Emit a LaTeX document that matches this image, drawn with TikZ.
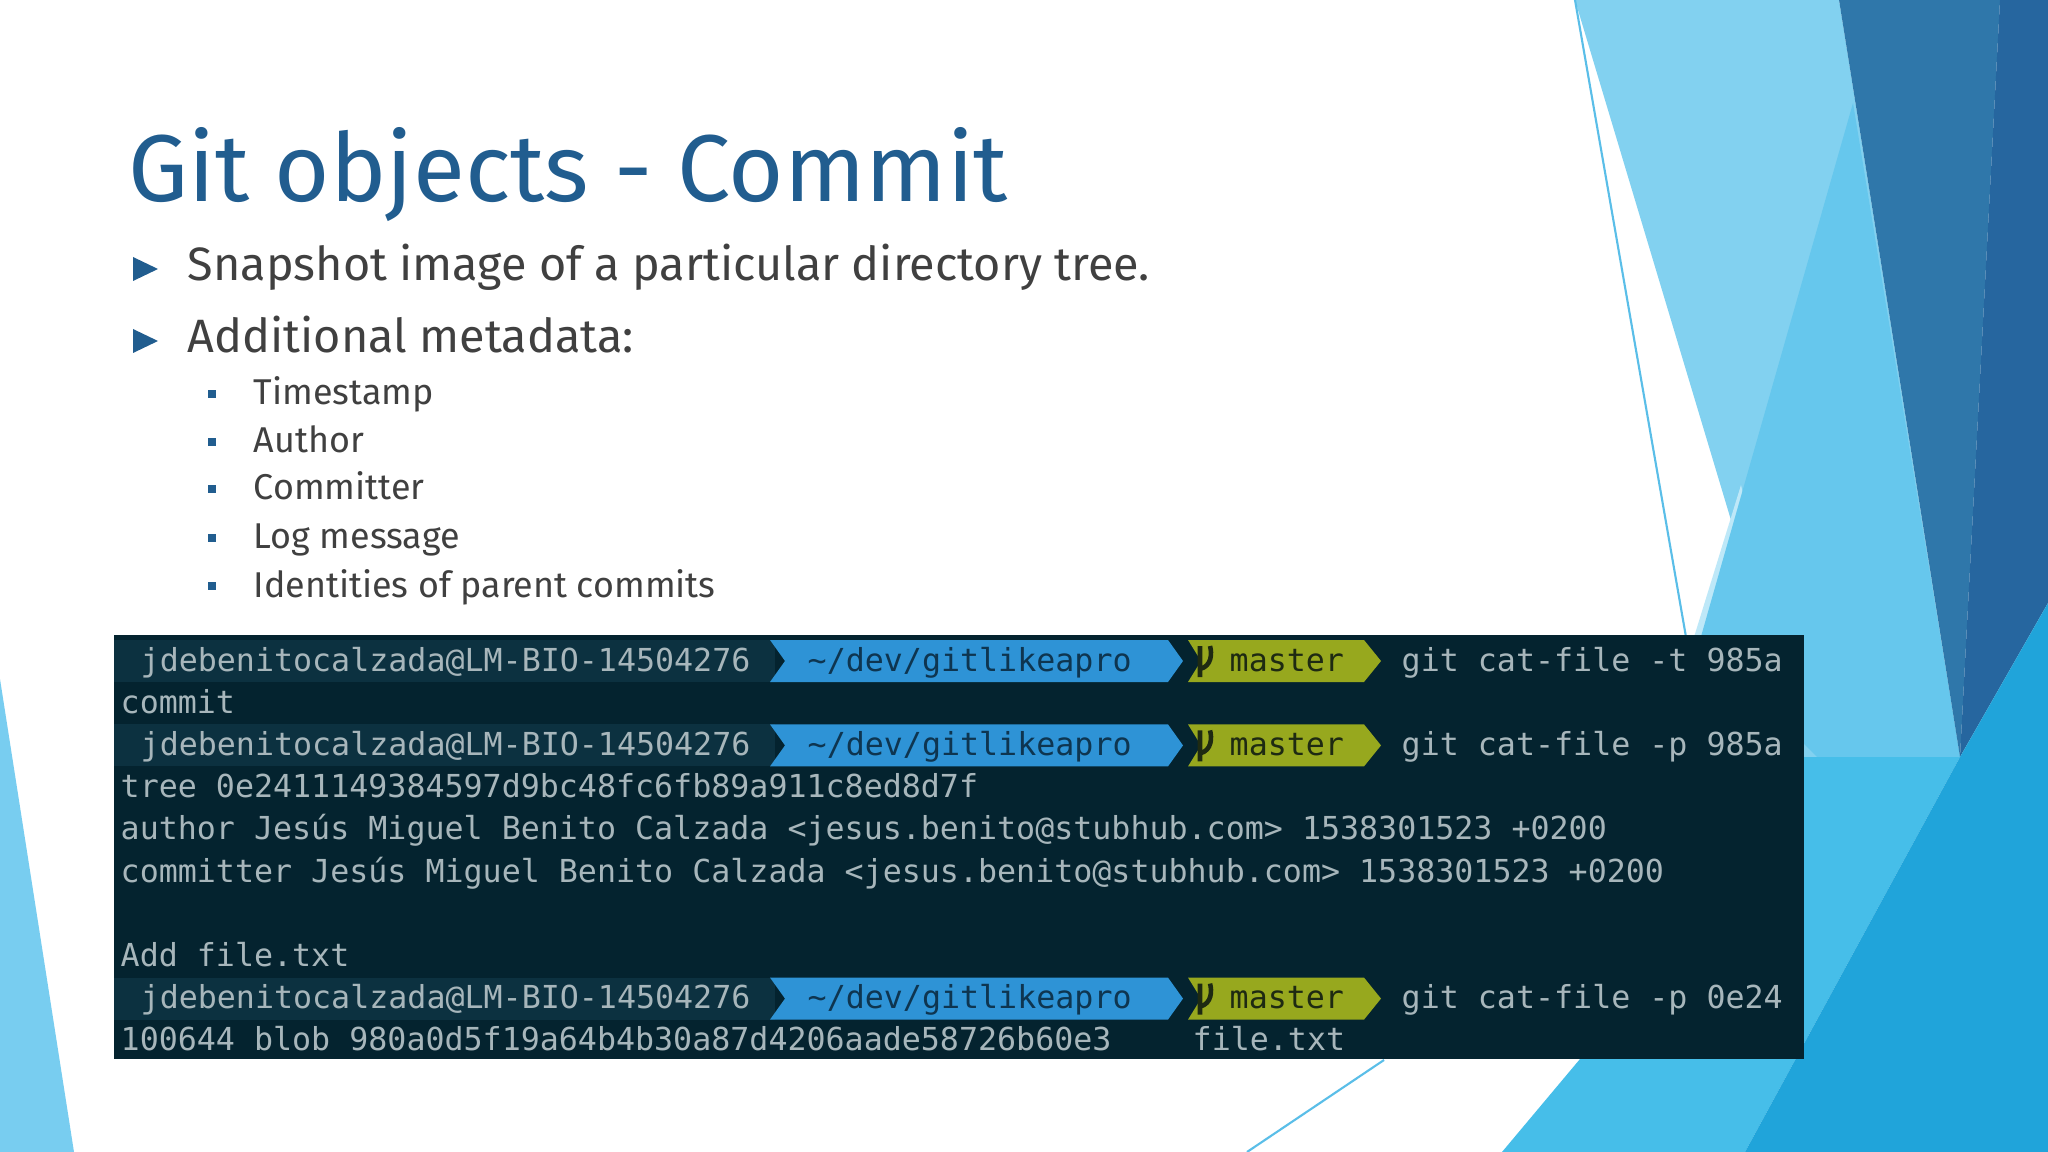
\documentclass[tikz,border=0pt]{standalone}
\usepackage{fontspec}
\setmainfont{Fira Sans}
\newfontfamily\termfont{DejaVu Sans Mono}
\definecolor{titleblue}{HTML}{215D8F}
\definecolor{bodytext}{HTML}{404040}
\definecolor{termbg}{HTML}{04232F}
\definecolor{userbg}{HTML}{0C3140}
\definecolor{termtxt}{HTML}{A7B6BB}
\definecolor{pathbg}{HTML}{2E93D6}
\definecolor{pathtxt}{HTML}{0E3550}
\definecolor{mastbg}{HTML}{97A81E}
\definecolor{masttxt}{HTML}{1E2A12}
\begin{document}
\begin{tikzpicture}[x=0.01cm,y=-0.01cm,
  tt/.style={anchor=base west,inner sep=0pt,font=\termfont\fontsize{9}{10}\selectfont,text=termtxt},
  bul/.style={anchor=base west,inner sep=0pt,text=bodytext,font=\fontsize{13.3}{15}\selectfont},
  sub/.style={anchor=base west,inner sep=0pt,text=bodytext,font=\fontsize{10.2}{12}\selectfont}]
\useasboundingbox (0,0) rectangle (2048,1152);
\fill[white] (0,0) rectangle (2048,1152);
% background decoration
\fill[color={rgb,255:red,130;green,209;blue,240}] (1575,0) -- (1839,0) -- (1960,757) -- (1802,757) -- cycle;
\fill[color={rgb,255:red,190;green,232;blue,248}] (1741,485) -- (1802,757) -- (1760,790) -- (1690,650) -- cycle;
\fill[color={rgb,255:red,102;green,199;blue,237}] (1853,103) -- (1960,757) -- (1850,790) -- (1700,640) -- cycle;
\fill[color={rgb,255:red,47;green,119;blue,170}] (1839,0) -- (2000,0) -- (1960,757) -- cycle;
\fill[color={rgb,255:red,38;green,102;blue,159}] (2000,0) -- (2048,0) -- (2048,603) -- (1960,757) -- cycle;
\fill[color={rgb,255:red,70;green,190;blue,233}] (1502,1152) -- (1580,1059) -- (1802,757) -- (1960,757) -- (1745,1152) -- cycle;
\fill[color={rgb,255:red,32;green,164;blue,218}] (2048,603) -- (2048,1152) -- (1745,1152) -- (1960,757) -- cycle;
\fill[color={rgb,255:red,120;green,205;blue,240}] (0,679) -- (74,1152) -- (0,1152) -- cycle;
\draw[color={rgb,255:red,90;green,190;blue,232},line width=0.6pt] (1575,0) -- (1690,660);
\draw[color={rgb,255:red,90;green,190;blue,232},line width=0.6pt] (1247,1152) -- (1384,1060);
% title and bullets
\node[anchor=base west,inner sep=0pt,text=titleblue,font=\fontsize{27}{32}\selectfont] (title) at (128,202) {Git objects - Commit};
\fill[titleblue] (133,257) -- (158,269) -- (133,281) -- cycle;
\node[bul] (b1) at (187,281) {Snapshot image of a particular directory tree.};
\fill[titleblue] (133,329) -- (158,341) -- (133,353) -- cycle;
\node[bul] (b2) at (187,353) {Additional metadata:};
\foreach \y/\t [count=\i] in {405/Timestamp,453/Author,500/Committer,549/Log message,597/Identities of parent commits}{
  \fill[titleblue] (208,\y-15) rectangle (216,\y-7);
  \node[sub] (s\i) at (253,\y) {\t};
}
% terminal
\fill[termbg] (114,635) rectangle (1804,1059);
\foreach \r in {0,2,8}{
  \pgfmathsetmacro{\bl}{671+42.2*\r}
  \pgfmathsetmacro{\tp}{\bl-31}
  \pgfmathsetmacro{\bt}{\bl+11}
  \pgfmathsetmacro{\md}{\bl-10}
  \fill[userbg] (114,\tp) rectangle (775,\bt);
  \fill[pathbg] (770,\tp) -- (1168,\tp) -- (1183,\md) -- (1168,\bt) -- (770,\bt) -- (785,\md) -- cycle;
  \fill[mastbg] (1188,\tp) -- (1364,\tp) -- (1381,\md) -- (1364,\bt) -- (1188,\bt) -- (1201,\md) -- cycle;
  \draw[masttxt,line width=1.3pt] (1200,\tp+6) -- (1200,\bt-5) (1200,\bt-13) .. controls (1212,\bt-16) and (1212,\md-8) .. (1210,\tp+6);
  \node[tt] at (140,\bl) {jdebenitocalzada@LM-BIO-14504276};
  \node[tt,text=pathtxt] at (807,\bl) {\string~/dev/gitlikeapro};
  \node[tt,text=masttxt] at (1229,\bl) {master};
}
\node[tt] (c1) at (1401,671) {git cat-file -t 985a};
\node[tt] (o1) at (120,713.2) {commit};
\node[tt] (c2) at (1401,755.4) {git cat-file -p 985a};
\node[tt] (o2) at (120,797.6) {tree 0e2411149384597d9bc48fc6fb89a911c8ed8d7f};
\node[tt] (o3) at (120,839.8) {author Jesús Miguel Benito Calzada <jesus.benito@stubhub.com> 1538301523 +0200};
\node[tt] (o4) at (120,882) {committer Jesús Miguel Benito Calzada <jesus.benito@stubhub.com> 1538301523 +0200};
\node[tt] (o5) at (120,966.4) {Add file.txt};
\node[tt] (c3) at (1401,1008.6) {git cat-file -p 0e24};
\node[tt] (o6) at (120,1050.8) {100644 blob 980a0d5f19a64b4b30a87d4206aade58726b60e3};
\node[tt] (o7) at (1192,1050.8) {file.txt};
\end{tikzpicture}
\end{document}
